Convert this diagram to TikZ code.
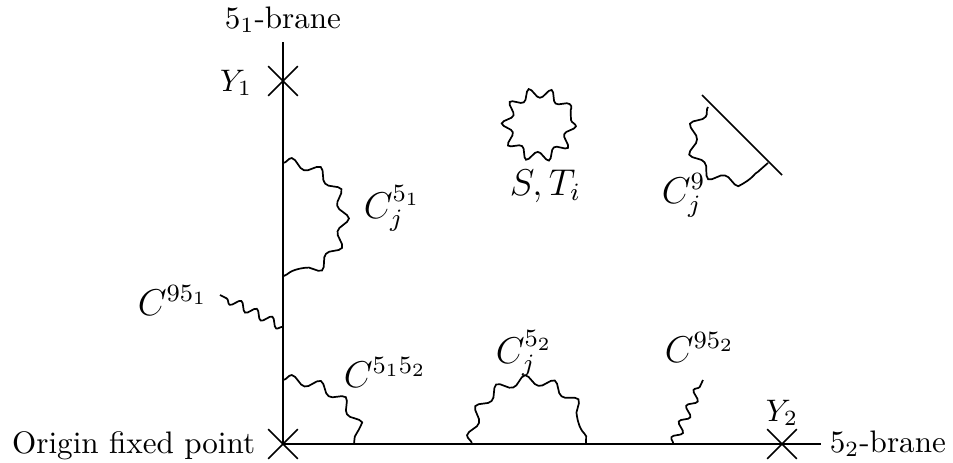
\documentclass[tikz,border=0pt]{standalone}
\usetikzlibrary{decorations.pathmorphing,shapes.misc}
\begin{document}
\begin{tikzpicture}[x=0.3215pt,y=-0.3215pt,line width=0.55pt,
  wave/.style={decorate,decoration={snake,segment length=9pt,amplitude=1.6pt}},
  swave/.style={decorate,decoration={snake,segment length=5.6pt,amplitude=1.4pt}},
  xmark/.style={draw,cross out,minimum size=9pt,inner sep=0pt,line width=0.5pt},
  lbl/.style={inner sep=0pt},
  clbl/.style={inner sep=0pt,font=\large}]
\useasboundingbox (0,0) rectangle (953,463);
% branes
\node[xmark] (O) at (283,444) {};
\node[xmark] (Y1) at (283,81) {};
\node[xmark] (Y2) at (782,444) {};
\coordinate (top) at (283,42);
\coordinate (right) at (821,444);
\draw (O.center) -- (top);
\draw (O.center) -- (right);
% labels
\node[lbl,anchor=base] (b1) at (283,28) {$5_1$-brane};
\node[lbl,anchor=base west] (b2) at (829,452) {$5_2$-brane};
\node[lbl,anchor=base east] (ofp) at (256,453) {Origin fixed point};
\node[lbl,anchor=base east] (y1l) at (253,91) {$Y_1$};
\node[lbl,anchor=base] (y2l) at (782,421) {$Y_2$};
% C^{5_1}_j
\coordinate (a1) at (283,163);
\draw[wave] (a1) arc[start angle=-90,end angle=90,x radius=54,y radius=56];
\node[clbl,anchor=base west] (c51) at (363,218) {$C_j^{5_1}$};
% C^{95_1}
\coordinate (a2) at (283,327);
\coordinate (a2e) at (220,295);
\draw[swave] (a2) -- (a2e);
\node[clbl,anchor=base west] (c951) at (137,315) {$C^{95_1}$};
% C^{5_15_2}
\coordinate (a3) at (283,380);
\draw[wave] (a3) arc[start angle=-90,end angle=0,x radius=71,y radius=64];
\node[clbl,anchor=base west] (c5152) at (343,387) {$C^{5_15_2}$};
% C^{5_2}_j
\coordinate (a4) at (472,444);
\draw[wave] (a4) arc[start angle=180,end angle=360,x radius=57,y radius=57];
\node[clbl,anchor=base west] (c52) at (495,363) {$C_j^{5_2}$};
% C^{95_2}
\coordinate (a5) at (673,444);
\coordinate (a5e) at (703,380);
\draw[swave] (a5) -- (a5e);
\node[clbl,anchor=base west] (c952) at (664,362) {$C^{95_2}$};
% S,T_i
\coordinate (st) at (539,120);
\draw[decorate,decoration={snake,segment length=6.46pt,amplitude=1.6pt}] (571,120) arc[start angle=0,end angle=360,radius=32];
\node[clbl,anchor=base west] (stl) at (509,195) {$S,T_i$};
% C^9_j
\coordinate (n1) at (702,95);
\coordinate (n2) at (782,175);
\draw (n1) -- (n2);
\coordinate (a7) at (708,107);
\draw[wave] (a7) arc[start angle=223,end angle=43,radius=41];
\node[clbl,anchor=base west] (c9) at (661,203) {$C_j^9$};
\end{tikzpicture}
\end{document}
